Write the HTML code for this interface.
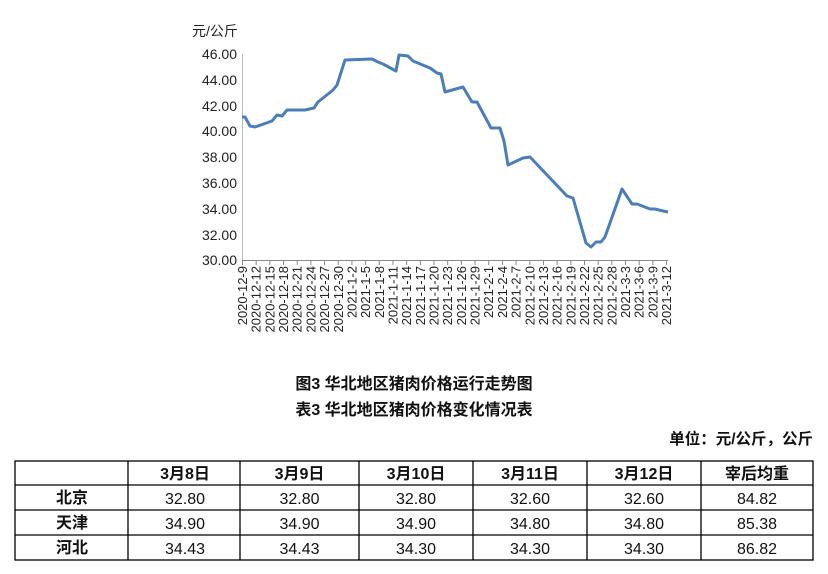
<!DOCTYPE html>
<html><head><meta charset="utf-8"><style>
body{margin:0;background:#fff;width:828px;height:574px;overflow:hidden;font-family:"Liberation Sans","Noto Sans CJK SC",sans-serif}
</style></head><body>
<svg width="828" height="574" xmlns="http://www.w3.org/2000/svg" style="position:absolute;left:0;top:0">
<g font-family="Liberation Sans, Noto Sans CJK SC, sans-serif" fill="#222">
<text x="192" y="36" font-size="14">元/公斤</text>
<g font-size="14" text-anchor="end">
<text x="237" y="59">46.00</text><text x="237" y="85">44.00</text><text x="237" y="111">42.00</text><text x="237" y="136">40.00</text><text x="237" y="162">38.00</text><text x="237" y="188">36.00</text><text x="237" y="214">34.00</text><text x="237" y="240">32.00</text><text x="237" y="265">30.00</text>
</g>
</g>
<line x1="242.5" y1="54" x2="242.5" y2="260" stroke="#bbb"/>
<line x1="242" y1="260.5" x2="668" y2="260.5" stroke="#888"/>
<g id="ticks" stroke="#888"></g>
<g id="xl" font-family="Liberation Sans, sans-serif" font-size="13" fill="#222"></g>
<polyline fill="none" stroke="#4a7ebb" stroke-width="3" stroke-linejoin="round" points="242,117 245,117 250,126 255,127 272,121 277,115 282,116 287,110 305,110 314,108 318,102 333,90 337,85 345,60 372,59 378,62 383,64 396,71 399,55 408,56 413,61 430,68 437,73 441,74 445,92 463,87 472,102 477,102 491,128 500,128 504,141 508,165 523,158 530,157 567,196 573,198 586,243 591,247 596,242 601,242 605,237 622,189 632,204 637,204 650,209 655,209 663,211 668,212"/>
<g font-family="Liberation Sans, Noto Sans CJK SC, sans-serif" font-weight="bold" font-size="16" fill="#111" text-anchor="middle">
<text x="414" y="389">图3 华北地区猪肉价格运行走势图</text>
<text x="414" y="415">表3 华北地区猪肉价格变化情况表</text>
</g>
<text x="813" y="444" font-family="Liberation Sans, Noto Sans CJK SC, sans-serif" font-weight="bold" font-size="15.5" fill="#111" text-anchor="end">单位：元/公斤，公斤</text>
<g stroke="#000" stroke-width="1.3" fill="none">
<rect x="15" y="461" width="798" height="99"/>
<line x1="15" y1="485" x2="813" y2="485"/><line x1="15" y1="510" x2="813" y2="510"/><line x1="15" y1="535" x2="813" y2="535"/>
<line x1="128" y1="461" x2="128" y2="560"/><line x1="240" y1="461" x2="240" y2="560"/><line x1="359" y1="461" x2="359" y2="560"/><line x1="473" y1="461" x2="473" y2="560"/><line x1="587" y1="461" x2="587" y2="560"/><line x1="701" y1="461" x2="701" y2="560"/>
</g>
<g font-family="Liberation Sans, Noto Sans CJK SC, sans-serif" font-size="16" fill="#111" text-anchor="middle">
<g font-weight="bold">
<text x="185" y="479">3月8日</text><text x="299.5" y="479">3月9日</text><text x="416" y="479">3月10日</text><text x="530" y="479">3月11日</text><text x="644" y="479">3月12日</text><text x="757" y="479">宰后均重</text>
<text x="72" y="503">北京</text><text x="72" y="528">天津</text><text x="72" y="553">河北</text>
</g>
<text x="185" y="504">32.80</text><text x="299.5" y="504">32.80</text><text x="416" y="504">32.80</text><text x="530" y="504">32.60</text><text x="644" y="504">32.60</text><text x="757" y="504">84.82</text>
<text x="185" y="529">34.90</text><text x="299.5" y="529">34.90</text><text x="416" y="529">34.90</text><text x="530" y="529">34.80</text><text x="644" y="529">34.80</text><text x="757" y="529">85.38</text>
<text x="185" y="554">34.43</text><text x="299.5" y="554">34.43</text><text x="416" y="554">34.30</text><text x="530" y="554">34.30</text><text x="644" y="554">34.30</text><text x="757" y="554">86.82</text>
</g>
<script>
var ns="http://www.w3.org/2000/svg";
var t=document.getElementById("ticks"),xl=document.getElementById("xl");
var labels=[];var d=new Date(2020,11,9);
for(var i=0;i<32;i++){labels.push(d.getFullYear()+"-"+(d.getMonth()+1)+"-"+d.getDate());d.setDate(d.getDate()+3);}
for(var i=0;i<32;i++){var x=242.5+i*13.68;
var l=document.createElementNS(ns,"line");l.setAttribute("x1",x);l.setAttribute("x2",x);l.setAttribute("y1",260);l.setAttribute("y2",265);t.appendChild(l);
var tx=document.createElementNS(ns,"text");tx.setAttribute("text-anchor","end");tx.setAttribute("transform","translate("+(x+4.5)+",266) rotate(-90)");tx.textContent=labels[i];xl.appendChild(tx);}
</script>
</svg>
</body></html>
